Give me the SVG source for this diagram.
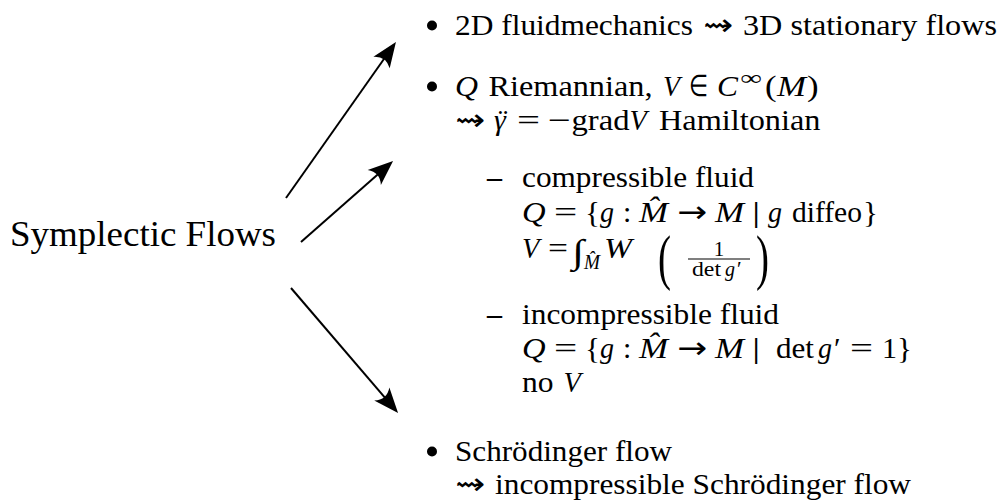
<svg xmlns="http://www.w3.org/2000/svg" width="1003" height="503" viewBox="0 0 1003 503" font-family="Liberation Serif, serif">
<style>
text{font-family:'Liberation Serif',serif;font-size:30px;fill:#000}
.i{font-style:italic}
.n{font-style:normal}
.s{font-size:21px}
.ttl{font-size:36px}
.sym{font-family:'DejaVu Sans',sans-serif}
.d{font-weight:bold}
.big{font-size:62px}
.conn line{stroke:#000;stroke-width:2;fill:none}
</style>
<defs>
<marker id="ah" viewBox="-15 -11 27 22" refX="0" refY="0" markerWidth="27" markerHeight="22" markerUnits="userSpaceOnUse" orient="auto">
<path d="M11,0 L-14,-10 Q-6,0 -14,10 Z" fill="#000"/>
</marker>
</defs>
<rect width="1003" height="503" fill="#fff"/>
<g id="connectors" class="conn">
<line x1="286" y1="198" x2="389.6" y2="51" marker-end="url(#ah)"/>
<line x1="301" y1="242" x2="384.8" y2="168.3" marker-end="url(#ah)"/>
<line x1="291" y1="288" x2="390.9" y2="404.6" marker-end="url(#ah)"/>
</g>
<g id="node-title">
<text x="10" y="246" class="ttl" textLength="266" lengthAdjust="spacingAndGlyphs">Symplectic Flows</text>
</g>
<g id="node-item1">
<circle cx="432" cy="25.5" r="5"/>
<text x="455" y="35" textLength="238" lengthAdjust="spacingAndGlyphs">2D fluidmechanics</text>
<text x="703" y="35" class="sym" textLength="30" lengthAdjust="spacingAndGlyphs">⇝</text>
<text x="743" y="35" textLength="254" lengthAdjust="spacingAndGlyphs">3D stationary flows</text>
</g>
<g id="node-item2">
<circle cx="432" cy="86.5" r="5"/>
<text x="455" y="96" class="i" textLength="23" lengthAdjust="spacingAndGlyphs">Q</text>
<text x="488.5" y="96" textLength="164" lengthAdjust="spacingAndGlyphs">Riemannian,</text>
<text x="663" y="96" class="i" textLength="17" lengthAdjust="spacingAndGlyphs">V</text>
<text x="689" y="96" textLength="19" lengthAdjust="spacingAndGlyphs">∈</text>
<text x="717" y="96" class="i" textLength="21" lengthAdjust="spacingAndGlyphs">C</text>
<text x="740" y="85" class="s" textLength="22" lengthAdjust="spacingAndGlyphs">∞</text>
<text x="765" y="96" textLength="11.6" lengthAdjust="spacingAndGlyphs">(</text>
<text x="777" y="96" class="i" textLength="29" lengthAdjust="spacingAndGlyphs">M</text>
<text x="807" y="96" textLength="11.6" lengthAdjust="spacingAndGlyphs">)</text>
<text x="455" y="130" class="sym" textLength="30" lengthAdjust="spacingAndGlyphs">⇝</text>
<text x="494" y="130" class="i">γ<tspan x="498" class="n">¨</tspan></text>
<text x="517" y="130" textLength="23" lengthAdjust="spacingAndGlyphs">=</text>
<text x="548" y="130" textLength="23" lengthAdjust="spacingAndGlyphs">−</text>
<text x="571.5" y="130" textLength="58" lengthAdjust="spacingAndGlyphs">grad</text>
<text x="629.5" y="130" class="i" textLength="17.4" lengthAdjust="spacingAndGlyphs">V</text>
<text x="659" y="130" textLength="161.5" lengthAdjust="spacingAndGlyphs">Hamiltonian</text>
</g>
<g id="node-compressible">
<text x="487" y="187" class="d" textLength="15" lengthAdjust="spacingAndGlyphs">–</text>
<text x="522" y="187" textLength="232" lengthAdjust="spacingAndGlyphs">compressible fluid</text>
<text x="522" y="222" class="i" textLength="23.6" lengthAdjust="spacingAndGlyphs">Q</text>
<text x="554" y="222" textLength="23.2" lengthAdjust="spacingAndGlyphs">=</text>
<text x="585" y="222" textLength="15" lengthAdjust="spacingAndGlyphs">{</text>
<text x="600" y="222" class="i" textLength="14" lengthAdjust="spacingAndGlyphs">g</text>
<text x="623" y="222" textLength="8.3" lengthAdjust="spacingAndGlyphs">:</text>
<text x="639" y="222" class="i" textLength="29" lengthAdjust="spacingAndGlyphs">M̂</text>
<text x="677" y="222" class="sym" textLength="30" lengthAdjust="spacingAndGlyphs">→</text>
<text x="715" y="222" class="i" textLength="29" lengthAdjust="spacingAndGlyphs">M</text>
<text x="752" y="222" textLength="8.3" lengthAdjust="spacingAndGlyphs">|</text>
<text x="768" y="222" class="i" textLength="14" lengthAdjust="spacingAndGlyphs">g</text>
<text x="792" y="222" textLength="70" lengthAdjust="spacingAndGlyphs">diffeo</text>
<text x="863" y="222" textLength="15" lengthAdjust="spacingAndGlyphs">}</text>
<text x="522" y="258" class="i" textLength="17.4" lengthAdjust="spacingAndGlyphs">V</text>
<text x="548" y="258" textLength="20" lengthAdjust="spacingAndGlyphs">=</text>
<text x="572" y="263" style="font-size:34px" textLength="12" lengthAdjust="spacingAndGlyphs">∫</text>
<text x="584" y="269" class="i s" textLength="16" lengthAdjust="spacingAndGlyphs">M̂</text>
<text x="604" y="258" class="i" textLength="28" lengthAdjust="spacingAndGlyphs">W</text>
<text x="658" y="278" class="big" textLength="13" lengthAdjust="spacingAndGlyphs">(</text>
<text x="719" y="256" class="s" text-anchor="middle">1</text>
<line x1="688" y1="259" x2="750" y2="259" stroke="#000" stroke-width="1.2"/>
<text x="692" y="276" class="s" textLength="29" lengthAdjust="spacingAndGlyphs">det</text>
<text x="725" y="276" class="i s" textLength="10" lengthAdjust="spacingAndGlyphs">g</text>
<text x="737" y="276" class="s">′</text>
<text x="756" y="278" class="big" textLength="13" lengthAdjust="spacingAndGlyphs">)</text>
</g>
<g id="node-incompressible">
<text x="487" y="324" class="d" textLength="15" lengthAdjust="spacingAndGlyphs">–</text>
<text x="522" y="324" textLength="257" lengthAdjust="spacingAndGlyphs">incompressible fluid</text>
<text x="522" y="358" class="i" textLength="23.6" lengthAdjust="spacingAndGlyphs">Q</text>
<text x="554" y="358" textLength="23.2" lengthAdjust="spacingAndGlyphs">=</text>
<text x="585" y="358" textLength="15" lengthAdjust="spacingAndGlyphs">{</text>
<text x="600" y="358" class="i" textLength="14" lengthAdjust="spacingAndGlyphs">g</text>
<text x="623" y="358" textLength="8.3" lengthAdjust="spacingAndGlyphs">:</text>
<text x="639" y="358" class="i" textLength="29" lengthAdjust="spacingAndGlyphs">M̂</text>
<text x="677" y="358" class="sym" textLength="30" lengthAdjust="spacingAndGlyphs">→</text>
<text x="715" y="358" class="i" textLength="29" lengthAdjust="spacingAndGlyphs">M</text>
<text x="752" y="358" textLength="8.3" lengthAdjust="spacingAndGlyphs">|</text>
<text x="776" y="358" textLength="38" lengthAdjust="spacingAndGlyphs">det</text>
<text x="818" y="358" class="i" textLength="14" lengthAdjust="spacingAndGlyphs">g</text>
<text x="834" y="358">′</text>
<text x="850" y="358" textLength="23" lengthAdjust="spacingAndGlyphs">=</text>
<text x="882" y="358" textLength="15" lengthAdjust="spacingAndGlyphs">1</text>
<text x="897" y="358" textLength="15" lengthAdjust="spacingAndGlyphs">}</text>
<text x="522" y="392" textLength="31.5" lengthAdjust="spacingAndGlyphs">no</text>
<text x="563.5" y="392" class="i" textLength="17.4" lengthAdjust="spacingAndGlyphs">V</text>
</g>
<g id="node-schroedinger">
<circle cx="432" cy="451.5" r="5"/>
<text x="455" y="461" textLength="217" lengthAdjust="spacingAndGlyphs">Schrödinger flow</text>
<text x="455" y="494" class="sym" textLength="30" lengthAdjust="spacingAndGlyphs">⇝</text>
<text x="495" y="494" textLength="416" lengthAdjust="spacingAndGlyphs">incompressible Schrödinger flow</text>
</g>
</svg>
